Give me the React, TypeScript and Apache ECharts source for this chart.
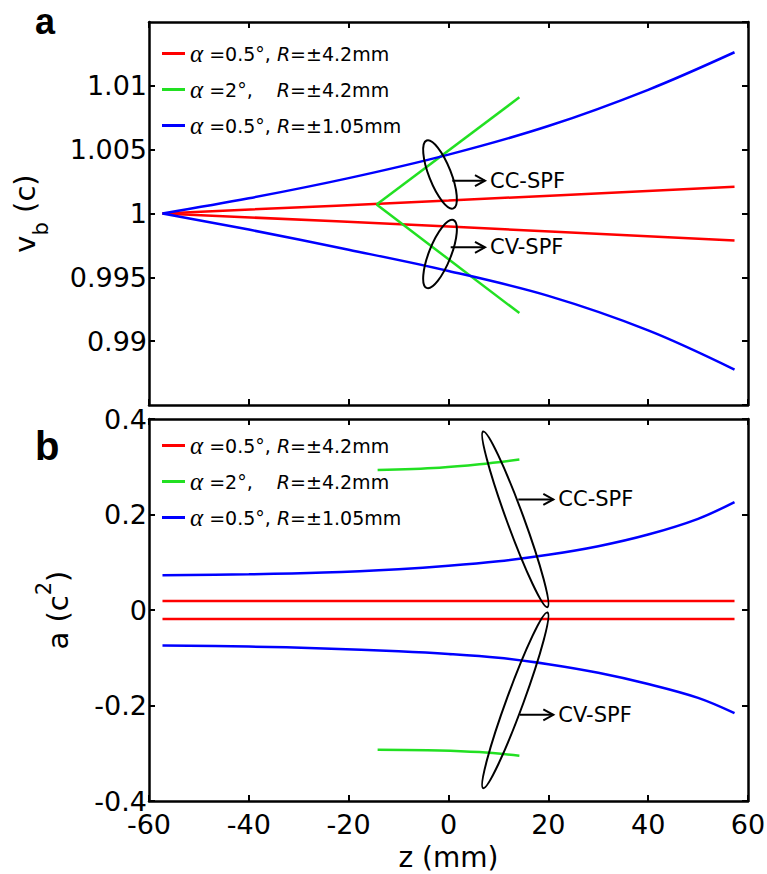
import React, { useEffect, useRef } from 'react';
import * as echarts from 'echarts';

// ---------------- data ----------------
const zMin = -60;
const zMax = 60;
const zStep = 20;
const vbMin = 0.985;
const vbMax = 1.015;
const vbStep = 0.005;
const aMin = -0.4;
const aMax = 0.4;
const aStep = 0.2;

const nameRed = 'α =0.5°, R=±4.2mm';
const nameGreen = 'α =2°, R=±4.2mm';
const nameBlue = 'α =0.5°, R=±1.05mm';
const legendNames = [nameRed, nameGreen, nameBlue];
const legendRich: Record<string, string> = {
  [nameRed]: '{g|α} =0.5°, {i|R}=±4.2mm',
  [nameGreen]: '{g|α} =2°,    {i|R}=±4.2mm',
  [nameBlue]: '{g|α} =0.5°, {i|R}=±1.05mm',
};

// panel a : v_b (c) vs z (mm)
const vbRedUpper = [[-57.3, 1.0], [0, 1.00102], [57.3, 1.0021]];
const vbRedLower = [[-57.3, 1.0], [0, 0.99898], [57.3, 0.99788]];
const vbGreenUpper = [[-14.4, 1.0007], [14.2, 1.0091]];
const vbGreenLower = [[-14.4, 1.0007], [14.2, 0.9922]];
const vbBlueUpper = [[-57.3, 1.0], [-40, 1.00119], [-20, 1.00277], [0, 1.00461], [20, 1.00685], [40, 1.00969], [57.3, 1.01263]];
const vbBlueLower = [[-57.3, 1.0], [-40, 0.99874], [-20, 0.99716], [0, 0.9955], [20, 0.99355], [40, 0.99085], [57.3, 0.98778]];

// panel b : a (c^2) vs z (mm)
const aRedUpper = [[-57.3, 0.019], [57.3, 0.019]];
const aRedLower = [[-57.3, -0.019], [57.3, -0.019]];
const aGreenUpper = [[-14.2, 0.293], [-1.8, 0.298], [6.2, 0.305], [14.2, 0.315]];
const aGreenLower = [[-14.2, -0.2926], [-1.8, -0.294], [6.2, -0.2975], [14.2, -0.305]];
const aBlueUpper = [[-57.3, 0.073], [-40, 0.0748], [-25, 0.0785], [-10, 0.0855], [0, 0.0925], [10, 0.102], [20, 0.1155], [30, 0.1335], [40, 0.158], [50, 0.191], [57.3, 0.226]];
const aBlueLower = [[-57.3, -0.0745], [-40, -0.0765], [-25, -0.0805], [-10, -0.0865], [0, -0.092], [10, -0.1], [20, -0.1135], [30, -0.1315], [40, -0.155], [50, -0.184], [57.3, -0.216]];

// annotations (data coordinates)
const annotations = [
  { axes: 0, label: 'CC-SPF', center: [-1.7, 1.00306], tilt: 1, from: [0.76, 1.00257], to: [7.31, 1.00257] },
  { axes: 0, label: 'CV-SPF', center: [-1.7, 0.99683], tilt: -1, from: [0.44, 0.99735], to: [7.31, 0.99735] },
  { axes: 1, label: 'CC-SPF', center: [13.38, 0.1899], tilt: 1, from: [13.98, 0.2315], to: [21.0, 0.2315] },
  { axes: 1, label: 'CV-SPF', center: [13.38, -0.1892], tilt: -1, from: [14.32, -0.2195], to: [21.0, -0.2195] },
];

// ---------------- styles ----------------
const RED = '#ff0000';
const GREEN = '#22e022';
const BLUE = '#0000ff';
const AXIS_FONT = 'DejaVu Sans';
const TEXT_FONT = 'DejaVu Sans';
const LETTER_FONT = 'Liberation Sans';

function lineSeries(name: string, color: string, data: number[][], panel: number) {
  return {
    type: 'line',
    name,
    data,
    xAxisIndex: panel * 2,
    yAxisIndex: panel * 2,
    symbol: 'none',
    showSymbol: false,
    smooth: 0.35,
    silent: true,
    lineStyle: { color, width: 2.5 },
    itemStyle: { color },
  };
}

function xAxisDef(grid: number, position: string, showLabel: boolean, name?: string) {
  return {
    type: 'value',
    gridIndex: grid,
    position,
    min: zMin,
    max: zMax,
    interval: zStep,
    name: name || '',
    nameLocation: 'middle',
    nameGap: 42,
    nameTextStyle: { fontFamily: AXIS_FONT, fontSize: 28, color: '#000' },
    axisLine: { show: true, onZero: false, lineStyle: { color: '#000', width: 2.5 } },
    axisTick: { show: true, inside: true, length: 6, lineStyle: { color: '#000', width: 2 } },
    axisLabel: { show: showLabel, fontFamily: AXIS_FONT, fontSize: 27, lineHeight: 20, color: '#000', margin: 13 },
    splitLine: { show: false },
  };
}

function yAxisDef(grid: number, position: string, min: number, max: number, step: number, showLabel: boolean, extra: any = {}) {
  return {
    type: 'value',
    gridIndex: grid,
    position,
    min,
    max,
    interval: step,
    axisLine: { show: true, onZero: false, lineStyle: { color: '#000', width: 2.5 } },
    axisTick: { show: true, inside: true, length: 6, lineStyle: { color: '#000', width: 2 } },
    axisLabel: { show: showLabel, fontFamily: AXIS_FONT, fontSize: 27, lineHeight: 20, color: '#000', margin: 2 },
    splitLine: { show: false },
    ...extra,
  };
}

function legendDef(top: number, gap: number) {
  return {
    orient: 'vertical',
    left: 162,
    top,
    padding: 0,
    itemGap: gap,
    itemWidth: 23,
    itemHeight: 3,
    icon: 'rect',
    selectedMode: false,
    data: legendNames,
    formatter: (n: string) => legendRich[n] || n,
    textStyle: {
      fontFamily: TEXT_FONT,
      fontSize: 19,
      lineHeight: 24,
      color: '#000',
      rich: {
        g: { fontFamily: 'Liberation Serif', fontStyle: 'italic', fontSize: 25, lineHeight: 24, color: '#000' },
        i: { fontFamily: TEXT_FONT, fontStyle: 'italic', fontSize: 19, lineHeight: 24, color: '#000' },
      },
    },
  };
}

export default function App() {
  const ref = useRef<HTMLDivElement>(null);
  useEffect(() => {
    document.body.style.margin = '0';
    if (!ref.current) return;
    const chart = echarts.init(ref.current, null, { renderer: 'svg' });
    const option: any = {
      animation: false,
      backgroundColor: '#fff',
      textStyle: { fontFamily: AXIS_FONT },
      grid: [
        { left: 149, top: 22, width: 599, height: 383, containLabel: false, outerBoundsMode: 'none' },
        { left: 149, top: 419, width: 599, height: 382, containLabel: false, outerBoundsMode: 'none' },
      ],
      xAxis: [
        xAxisDef(0, 'bottom', false),
        xAxisDef(0, 'top', false),
        xAxisDef(1, 'bottom', true, 'z (mm)'),
        xAxisDef(1, 'top', false),
      ],
      yAxis: [
        yAxisDef(0, 'left', vbMin, vbMax, vbStep, true, {
          axisLabel: { show: true, fontFamily: AXIS_FONT, fontSize: 27, lineHeight: 20, color: '#000', margin: 2, showMinLabel: false, showMaxLabel: false },
          name: 'v{sub|b} (c)',
          nameLocation: 'middle',
          nameRotate: 90,
          nameGap: 98,
          nameTextStyle: {
            fontFamily: AXIS_FONT, fontSize: 29, lineHeight: 52, color: '#000',
            rich: { sub: { fontFamily: AXIS_FONT, fontSize: 21, lineHeight: 21, verticalAlign: 'bottom', color: '#000' } },
          },
        }),
        yAxisDef(0, 'right', vbMin, vbMax, vbStep, false),
        yAxisDef(1, 'left', aMin, aMax, aStep, true, {
          name: 'a (c{sup|2})',
          nameLocation: 'middle',
          nameRotate: 90,
          nameGap: 56,
          nameTextStyle: {
            fontFamily: AXIS_FONT, fontSize: 29, lineHeight: 50, color: '#000',
            rich: { sup: { fontFamily: AXIS_FONT, fontSize: 21, lineHeight: 21, verticalAlign: 'top', color: '#000' } },
          },
        }),
        yAxisDef(1, 'right', aMin, aMax, aStep, false),
      ],
      legend: [legendDef(41, 11), legendDef(433, 11)],
      series: [
        lineSeries(nameRed, RED, vbRedUpper, 0),
        lineSeries(nameRed, RED, vbRedLower, 0),
        lineSeries(nameGreen, GREEN, vbGreenUpper, 0),
        lineSeries(nameGreen, GREEN, vbGreenLower, 0),
        lineSeries(nameBlue, BLUE, vbBlueUpper, 0),
        lineSeries(nameBlue, BLUE, vbBlueLower, 0),
        lineSeries(nameRed, RED, aRedUpper, 1),
        lineSeries(nameRed, RED, aRedLower, 1),
        lineSeries(nameGreen, GREEN, aGreenUpper, 1),
        lineSeries(nameGreen, GREEN, aGreenLower, 1),
        lineSeries(nameBlue, BLUE, aBlueUpper, 1),
        lineSeries(nameBlue, BLUE, aBlueLower, 1),
      ],
    };
    chart.setOption(option);

    const toPx = (panel: number, p: number[]) =>
      chart.convertToPixel({ xAxisIndex: panel * 2, yAxisIndex: panel * 2 } as any, p) as number[];

    const graphics: any[] = [
      { type: 'text', x: 35, y: 21, style: { text: 'a', fontFamily: LETTER_FONT, fontWeight: 'bold', fontSize: 36, fill: '#000', align: 'left', verticalAlign: 'middle', textAlign: 'left', textVerticalAlign: 'middle' } },
      { type: 'text', x: 35, y: 446, style: { text: 'b', fontFamily: LETTER_FONT, fontWeight: 'bold', fontSize: 40, fill: '#000', align: 'left', verticalAlign: 'middle', textAlign: 'left', textVerticalAlign: 'middle' } },
    ];
    annotations.forEach((an) => {
      const c = toPx(an.axes, an.center);
      const f = toPx(an.axes, an.from);
      const t = toPx(an.axes, an.to);
      const big = an.axes === 1;
      const rx = big ? 8.5 : 11;
      const ry = big ? 93.5 : 36.5;
      const ang = ((big ? 20.1 : 21.5) * Math.PI) / 180;
      graphics.push({
        type: 'ellipse', x: c[0], y: c[1], rotation: an.tilt * ang, z: 50,
        shape: { cx: 0, cy: 0, rx, ry },
        style: { fill: 'none', stroke: '#000', lineWidth: 2 },
      });
      graphics.push({
        type: 'line', z: 50,
        shape: { x1: f[0], y1: f[1], x2: t[0], y2: t[1] },
        style: { stroke: '#000', lineWidth: 2 },
      });
      graphics.push({
        type: 'polyline', z: 50,
        shape: { points: [[t[0] - 10, t[1] - 5.5], [t[0], t[1]], [t[0] - 10, t[1] + 5.5]] },
        style: { stroke: '#000', fill: 'none', lineWidth: 2 },
      });
      graphics.push({
        type: 'text', x: t[0] + 5, y: t[1], z: 50,
        style: { text: an.label, fontFamily: TEXT_FONT, fontSize: 21, fill: '#000', align: 'left', verticalAlign: 'middle', textAlign: 'left', textVerticalAlign: 'middle' },
      });
    });
    chart.setOption({ graphic: graphics });

    return () => chart.dispose();
  }, []);
  return <div ref={ref} style={{ width: 767, height: 874 }} />;
}
